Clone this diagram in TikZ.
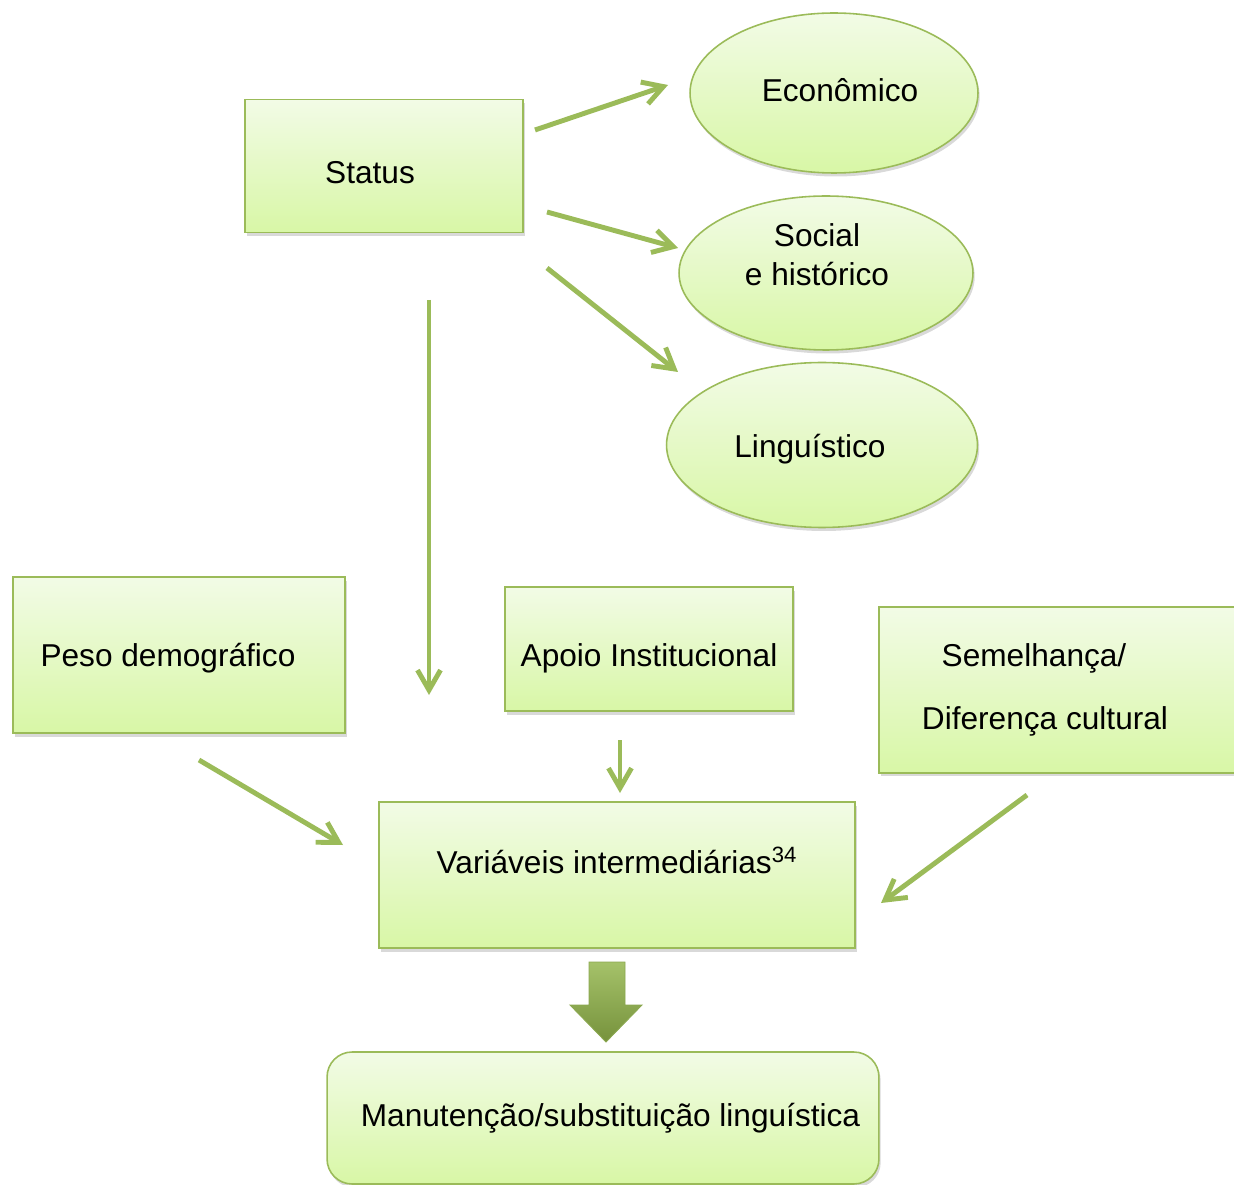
\documentclass[tikz,border=0pt]{standalone}
\usepackage{fontspec}
\setmainfont{Liberation Sans}
\usepackage{xcolor}
\definecolor{leafline}{HTML}{9BBB59}
\definecolor{leaftop}{HTML}{F2FBE6}
\definecolor{leafbot}{HTML}{D8F7A6}
\definecolor{leafarr}{HTML}{9BBB59}
\definecolor{leafdark}{HTML}{76923C}
\usepackage{tikz}
\usetikzlibrary{shapes.geometric, arrows.meta, shadows}
% baseline of the text put #1 above the node centre
\newcommand{\lifted}[2]{\raisebox{#1}[0pt][0pt]{#2}}
\tikzset{
  gbox/.style ={rectangle, draw=leafline, line width=0.9pt, top color=leaftop, bottom color=leafbot,
                text=black, align=center, inner sep=4pt, font=\fontsize{18}{22}\selectfont,
                drop shadow={shadow xshift=1pt, shadow yshift=-2pt, opacity=0.3}},
  gboxr/.style={gbox, rounded corners=0.5cm},
  gell/.style ={ellipse, draw=leafline, line width=0.9pt, top color=leaftop, bottom color=leafbot,
                text=black, align=center, inner sep=2pt, font=\fontsize{18}{22}\selectfont,
                drop shadow={shadow xshift=1pt, shadow yshift=-2pt, opacity=0.3}},
  garr/.style ={-{Straight Barb[length=4mm, width=4.6mm]}, line width=2.8pt, color=leafarr},
  gblock/.style={top color=leafarr!90!white, bottom color=leafdark, draw=leafarr!90!black, line width=0.5pt},
}

\begin{document}
\begin{tikzpicture}[x=0.02cm, y=-0.02cm]
  \useasboundingbox (0,0) rectangle (1234,1185);
  % top part
  \node[gbox, minimum width=5.56cm, minimum height=2.66cm] (status) at (384,166)
    {\lifted{-0.35cm}{Status}\hspace{0.56cm}};
  \node[gell, minimum width=5.76cm, minimum height=3.2cm]  (econ)   at (834,93)
    {\hspace{0.24cm}\lifted{-0.17cm}{Econômico}};
  \node[gell, minimum width=5.88cm, minimum height=3.08cm] (social) at (826,273)
    {\lifted{0.14cm}{\begin{tabular}{@{}c@{}}Social\\e histórico\end{tabular}}\hspace{0.36cm}};
  \node[gell, minimum width=6.22cm, minimum height=3.3cm]  (ling)   at (822,445)
    {\lifted{-0.25cm}{Linguístico}\hspace{0.48cm}};
  % middle row
  \node[gbox, minimum width=6.64cm, minimum height=3.12cm] (peso)  at (179,655)
    {\lifted{-0.23cm}{Peso demográfico}\hspace{0.44cm}};
  \node[gbox, minimum width=5.76cm, minimum height=2.48cm] (apoio) at (649,649)
    {\lifted{-0.35cm}{Apoio Institucional}};
  \node[gbox, minimum width=7.24cm, minimum height=3.32cm] (semel) at (1060,690)
    {Semelhança/\hspace*{1.04cm}\\[14pt]Diferença cultural\hspace*{0.6cm}};
  \node[gbox, minimum width=9.52cm, minimum height=2.92cm] (varint) at (617,875)
    {\lifted{0.03cm}{Variáveis intermediárias\textsuperscript{34}}};
  \node[gboxr, minimum width=11.04cm, minimum height=2.64cm] (manut) at (603,1118)
    {\hspace{0.3cm}Manutenção/substituição linguística};
  % arrow ends
  \coordinate (sa1) at (535,130);  \coordinate (ea1) at (668,85);
  \coordinate (sa2) at (547,212);  \coordinate (ea2) at (678,248);
  \coordinate (sa3) at (547,268);  \coordinate (ea3) at (678,372);
  \coordinate (sa4) at (429,300);  \coordinate (ea4) at (429,695);
  \coordinate (sa5) at (620,740);  \coordinate (ea5) at (620,793);
  \coordinate (sa6) at (199,760);  \coordinate (ea6) at (343,845);
  \coordinate (sa7) at (1027,795); \coordinate (ea7) at (881,903);
  \draw[garr] (sa1) -- (ea1);
  \draw[garr] (sa2) -- (ea2);
  \draw[garr] (sa3) -- (ea3);
  \draw[garr] (sa4) -- (ea4);
  \draw[garr] (sa5) -- (ea5);
  \draw[garr] (sa6) -- (ea6);
  \draw[garr] (sa7) -- (ea7);
  % block arrow
  \draw[gblock] (589,962) -- (625,962) -- (625,1005) -- (642,1005) -- (606,1042)
    -- (570,1005) -- (589,1005) -- cycle;
\end{tikzpicture}
\end{document}
